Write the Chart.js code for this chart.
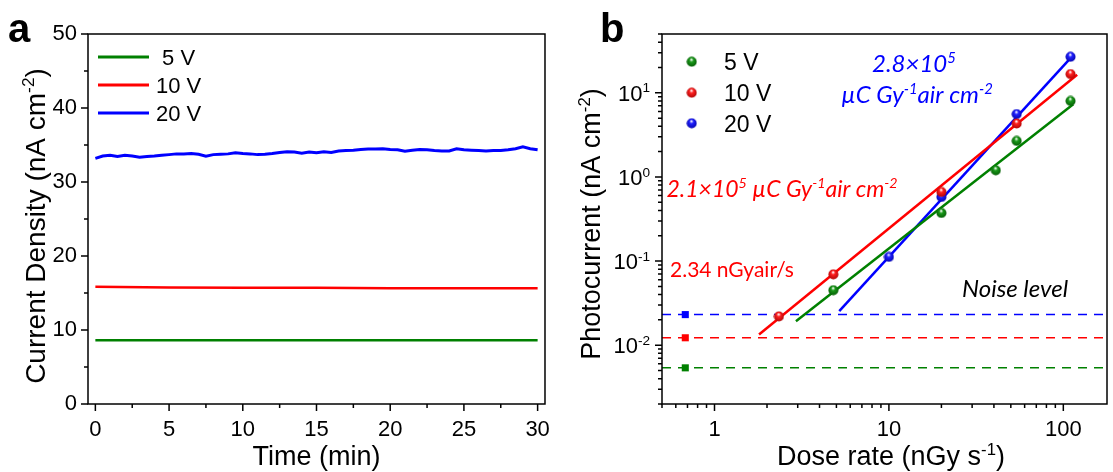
<!DOCTYPE html>
<html>
<head>
<meta charset="utf-8">
<script src="https://cdn.jsdelivr.net/npm/chart.js@4.4.1/dist/chart.umd.min.js"></script>
<style>
html, body { margin: 0; padding: 0; background: #fff; }
#wrap { position: relative; width: 1113px; height: 472px; overflow: hidden; }
canvas { position: absolute; top: 0; }
#cA { left: 0; }
#cB { left: 556px; }
</style>
</head>
<body>
<div id="wrap">
  <canvas id="cA" width="556" height="472"></canvas>
  <canvas id="cB" width="557" height="472"></canvas>
</div>
<script>
// ---- panel a : current density vs time ----
const timeFine = [0,0.5,1,1.5,2,2.5,3,3.5,4,4.5,5,5.5,6,6.5,7,7.5,8,8.5,9,9.5,10,10.5,11,11.5,12,12.5,13,13.5,14,14.5,15,
                  15.5,16,16.5,17,17.5,18,18.5,19,19.5,20,20.5,21,21.5,22,22.5,23,23.5,24,24.5,25,25.5,26,26.5,27,27.5,28,28.5,29,29.5,30];
const blue20V = [33.2,33.5,33.6,33.45,33.6,33.5,33.35,33.45,33.5,33.6,33.7,33.8,33.8,33.85,33.75,33.5,33.7,33.75,33.8,33.95,33.85,
                 33.8,33.7,33.75,33.85,34.0,34.1,34.05,33.9,34.05,33.95,34.1,34.0,34.2,34.25,34.3,34.4,34.45,34.45,34.5,34.4,
                 34.35,34.15,34.3,34.4,34.35,34.25,34.2,34.2,34.5,34.35,34.3,34.25,34.2,34.25,34.25,34.35,34.5,34.75,34.5,34.35];
const timeCoarse = [0,5,10,15,20,25,30];
const red10V = [15.85,15.75,15.7,15.7,15.65,15.65,15.65];
const green5V = [8.6,8.62,8.6,8.6,8.6,8.6,8.6];
const timeTicks = [0,5,10,15,20,25,30];
const timeMinor = [2.5,7.5,12.5,17.5,22.5,27.5];
const densTicks = [0,10,20,30,40,50];
const densMinor = [5,15,25,35,45];

// ---- panel b : photocurrent vs dose rate ----
const dose5V = [4.8,20,41,54,110];
const pc5V = [0.045,0.373,1.2,2.68,8.0];
const dose10V = [2.34,4.8,20,54,110];
const pc10V = [0.022,0.0695,0.663,4.32,16.7];
const dose20V = [10,20,54,110];
const pc20V = [0.112,0.578,5.58,26.8];
const fitDose5V = [2.93,114];
const fitPc5V = [0.0193,7.3];
const fitDose10V = [1.8,120];
const fitPc10V = [0.0134,16.4];
const fitDose20V = [5.19,114];
const fitPc20V = [0.0254,28.1];
const noiseLevel = [0.00538,0.01225,0.0231];   // 5 V, 10 V, 20 V
const noiseMarkDose = 0.68;
const doseRange = [0.5,178];
const pcRange = [0.002,50];
const doseTicks = [1,10,100];
const pcTicks = [0.01,0.1,1,10];
const pcTickExp = ['-2','-1','0','1'];

const GREEN = '#008000', RED = '#ff0000', BLUE = '#0000ff';
const ARIAL = '"Liberation Sans", Arial, sans-serif';
const CALI = 'Lato, "Open Sans", sans-serif';
const OXB = 556; // left of panel b canvas

function ball(color, dark) {
  const c = document.createElement('canvas');
  c.width = c.height = 11;
  const g = c.getContext('2d');
  const grd = g.createRadialGradient(5.2, 3.2, 0.3, 5.5, 5.5, 6);
  grd.addColorStop(0, '#ffffff');
  grd.addColorStop(0.3, color);
  grd.addColorStop(1, dark);
  g.fillStyle = grd;
  g.beginPath(); g.arc(5.5, 5.5, 5, 0, Math.PI * 2); g.fill();
  return c;
}
const ballG = ball('#1a9a1a', '#005000'), ballR = ball('#ff2020', '#a00000'), ballB = ball('#2020ff', '#0000a0');

// text with superscripts: parts = [[text, isSup], ...]
function drawRich(ctx, parts, x, y, o) {
  const supSize = o.size * 0.62;
  const fnt = s => (o.style || '') + ' ' + s + 'px ' + o.family;
  let w = 0;
  parts.forEach(([t, sup]) => { ctx.font = fnt(sup ? supSize : o.size); w += ctx.measureText(t).width; });
  let cx = o.align === 'center' ? x - w / 2 : (o.align === 'right' ? x - w : x);
  ctx.fillStyle = o.color || '#000';
  ctx.textAlign = 'left';
  ctx.textBaseline = 'alphabetic';
  parts.forEach(([t, sup]) => {
    ctx.font = fnt(sup ? supSize : o.size);
    ctx.fillText(t, cx, sup ? y - o.size * 0.38 : y);
    cx += ctx.measureText(t).width;
  });
}

function tickMarks(ctx, scale, vals, len, horiz, area) {
  ctx.beginPath();
  vals.forEach(v => {
    const p = scale.getPixelForValue(v);
    if (horiz) { ctx.moveTo(p, area.bottom); ctx.lineTo(p, area.bottom + len); }
    else { ctx.moveTo(area.left, p); ctx.lineTo(area.left - len, p); }
  });
  ctx.stroke();
}

function logMinor(lo, hi) {
  const out = [];
  for (let e = Math.floor(Math.log10(lo)); e <= Math.ceil(Math.log10(hi)); e++) {
    for (let m = 1; m <= 9; m++) {
      const v = m * Math.pow(10, e);
      if (v >= lo * 0.999 && v <= hi * 1.001) out.push(v);
    }
  }
  return out;
}

const hiddenGrid = { display: true, drawOnChartArea: false, drawTicks: true, tickLength: 7, tickColor: 'rgba(0,0,0,0)' };

// ---------------- chart a ----------------
const frameA = {
  id: 'frameA',
  afterDraw(chart) {
    const ctx = chart.ctx, a = chart.chartArea;
    ctx.save();
    ctx.strokeStyle = '#000'; ctx.lineWidth = 1.5;
    ctx.strokeRect(a.left, a.top, a.right - a.left, a.bottom - a.top);
    tickMarks(ctx, chart.scales.x, timeTicks, 7, true, a);
    tickMarks(ctx, chart.scales.x, timeMinor, 4, true, a);
    tickMarks(ctx, chart.scales.y, densTicks, 7, false, a);
    tickMarks(ctx, chart.scales.y, densMinor, 4, false, a);

    // legend
    const leg = [[GREEN, ' 5 V', 57], [RED, '10 V', 85], [BLUE, '20 V', 113]];
    leg.forEach(([c, t, y]) => {
      ctx.strokeStyle = c; ctx.lineWidth = 3;
      ctx.beginPath(); ctx.moveTo(98, y); ctx.lineTo(149, y); ctx.stroke();
      ctx.fillStyle = '#000'; ctx.font = '22px ' + ARIAL; ctx.textAlign = 'left'; ctx.textBaseline = 'alphabetic';
      ctx.fillText(t, 156, y + 8);
    });

    drawRich(ctx, [['Time (min)', false]], (a.left + a.right) / 2, 465, { size: 27, family: ARIAL, align: 'center' });
    ctx.save();
    ctx.translate(45, 226); ctx.rotate(-Math.PI / 2);
    drawRich(ctx, [['Current Density (nA cm', false], ['-2', true], [')', false]], 0, 0, { size: 28, family: ARIAL, align: 'center' });
    ctx.restore();

    ctx.fillStyle = '#000'; ctx.font = 'bold 40px ' + ARIAL; ctx.textAlign = 'left';
    ctx.fillText('a', 8, 42);
    ctx.restore();
  }
};

new Chart(document.getElementById('cA'), {
  type: 'line',
  data: {
    datasets: [
      { label: '20 V', data: timeFine.map((t, i) => ({ x: t, y: blue20V[i] })), borderColor: BLUE, borderWidth: 3, pointRadius: 0, tension: 0 },
      { label: '10 V', data: timeCoarse.map((t, i) => ({ x: t, y: red10V[i] })), borderColor: RED, borderWidth: 2.5, pointRadius: 0, tension: 0 },
      { label: '5 V', data: timeCoarse.map((t, i) => ({ x: t, y: green5V[i] })), borderColor: GREEN, borderWidth: 2.5, pointRadius: 0, tension: 0 }
    ]
  },
  options: {
    responsive: false, animation: false,
    layout: { padding: { left: 0, right: 9, top: 34, bottom: 0 } },
    plugins: { legend: { display: false }, tooltip: { enabled: false } },
    scales: {
      x: {
        type: 'linear', min: -0.5, max: 30.5,
        afterBuildTicks: s => { s.ticks = timeTicks.map(v => ({ value: v })); },
        afterFit: s => { s.height = 68; },
        grid: hiddenGrid, border: { display: false },
        ticks: { color: '#000', font: { family: ARIAL, size: 22 }, padding: 6, maxRotation: 0, autoSkip: false }
      },
      y: {
        type: 'linear', min: 0, max: 50,
        afterBuildTicks: s => { s.ticks = densTicks.map(v => ({ value: v })); },
        afterFit: s => { s.width = 88; },
        grid: hiddenGrid, border: { display: false },
        ticks: { color: '#000', font: { family: ARIAL, size: 22 }, padding: 4, autoSkip: false }
      }
    }
  },
  plugins: [frameA]
});

// ---------------- chart b ----------------
const frameB = {
  id: 'frameB',
  afterDraw(chart) {
    const ctx = chart.ctx, a = chart.chartArea, sx = chart.scales.x, sy = chart.scales.y;
    ctx.save();
    ctx.strokeStyle = '#000'; ctx.lineWidth = 1.5;
    ctx.strokeRect(a.left, a.top, a.right - a.left, a.bottom - a.top);
    tickMarks(ctx, sx, doseTicks, 7, true, a);
    tickMarks(ctx, sx, logMinor(doseRange[0], doseRange[1]).filter(v => !doseTicks.includes(v)), 4, true, a);
    tickMarks(ctx, sy, pcTicks, 7, false, a);
    tickMarks(ctx, sy, logMinor(pcRange[0], pcRange[1]).filter(v => !pcTicks.some(t => Math.abs(t - v) < t * 1e-6)), 4, false, a);

    // y tick labels 10^n
    pcTicks.forEach((v, i) => {
      const py = sy.getPixelForValue(v);
      drawRich(ctx, [['10', false], [pcTickExp[i], true]], 650 - OXB, py + 8, { size: 22, family: ARIAL, align: 'right' });
    });

    // legend
    const leg = [[ballG, '5 V', 61.7], [ballR, '10 V', 92.7], [ballB, '20 V', 123.3]];
    leg.forEach(([img, t, y]) => {
      ctx.drawImage(img, 691.7 - OXB - 5.5, y - 5.5);
      ctx.fillStyle = '#000'; ctx.font = '23px ' + ARIAL; ctx.textAlign = 'left'; ctx.textBaseline = 'alphabetic';
      ctx.fillText(t, 724 - OXB, y + 8.5);
    });

    // annotations
    const it = { size: 24, family: CALI, style: 'italic', color: BLUE, align: 'center' };
    drawRich(ctx, [['2.8\u00d710', false], ['5', true]], 914 - OXB, 72, it);
    drawRich(ctx, [['\u00b5C Gy', false], ['-1', true], ['air cm', false], ['-2', true]], 917 - OXB, 103, it);
    drawRich(ctx, [['2.1\u00d710', false], ['5', true], [' \u00b5C Gy', false], ['-1', true], ['air cm', false], ['-2', true]],
      782 - OXB, 197, Object.assign({}, it, { color: RED, size: 23 }));
    drawRich(ctx, [['2.34 nGyair/s', false]], 670 - OXB, 277, { size: 21, family: CALI, color: RED });
    drawRich(ctx, [['Noise level', false]], 962 - OXB, 297, { size: 24, family: CALI, style: 'italic', color: '#000' });

    drawRich(ctx, [['Dose rate (nGy s', false], ['-1', true], [')', false]], 891 - OXB, 465, { size: 27, family: ARIAL, align: 'center' });
    ctx.save();
    ctx.translate(600 - OXB, 224); ctx.rotate(-Math.PI / 2);
    drawRich(ctx, [['Photocurrent (nA cm', false], ['-2', true], [')', false]], 0, 0, { size: 27, family: ARIAL, align: 'center' });
    ctx.restore();

    ctx.fillStyle = '#000'; ctx.font = 'bold 40px ' + ARIAL; ctx.textAlign = 'left'; ctx.textBaseline = 'alphabetic';
    ctx.fillText('b', 600 - OXB, 42);
    ctx.restore();
  }
};

const xy = (xs, ys) => xs.map((x, i) => ({ x: x, y: ys[i] }));
const scatterSet = (lbl, xs, ys, img) => ({ label: lbl, data: xy(xs, ys), pointStyle: img, pointRadius: 5, showLine: false });
const fitSet = (xs, ys, c) => ({ data: xy(xs, ys), showLine: true, borderColor: c, borderWidth: 2.5, pointRadius: 0 });
const noiseSet = (lvl, c) => ({
  data: [{ x: doseRange[0], y: lvl }, { x: noiseMarkDose, y: lvl }, { x: doseRange[1], y: lvl }],
  showLine: true, borderColor: c, borderWidth: 1.5, borderDash: [9, 7],
  pointStyle: 'rect', pointRadius: [0, 5, 0], pointBackgroundColor: c, pointBorderColor: c, pointBorderWidth: 0
});

new Chart(document.getElementById('cB'), {
  type: 'scatter',
  data: {
    datasets: [
      scatterSet('5 V', dose5V, pc5V, ballG),
      scatterSet('10 V', dose10V, pc10V, ballR),
      scatterSet('20 V', dose20V, pc20V, ballB),
      fitSet(fitDose5V, fitPc5V, GREEN),
      fitSet(fitDose10V, fitPc10V, RED),
      fitSet(fitDose20V, fitPc20V, BLUE),
      noiseSet(noiseLevel[0], GREEN),
      noiseSet(noiseLevel[1], RED),
      noiseSet(noiseLevel[2], BLUE)
    ]
  },
  options: {
    responsive: false, animation: false,
    layout: { padding: { left: 0, right: 1, top: 34, bottom: 0 } },
    plugins: { legend: { display: false }, tooltip: { enabled: false } },
    scales: {
      x: {
        type: 'logarithmic', min: doseRange[0], max: doseRange[1],
        afterBuildTicks: s => { s.ticks = doseTicks.map(v => ({ value: v })); },
        afterFit: s => { s.height = 68; },
        grid: hiddenGrid, border: { display: false },
        ticks: { color: '#000', font: { family: ARIAL, size: 22 }, padding: 6, maxRotation: 0, autoSkip: false, callback: v => String(v) }
      },
      y: {
        type: 'logarithmic', min: pcRange[0], max: pcRange[1],
        afterBuildTicks: s => { s.ticks = pcTicks.map(v => ({ value: v })); },
        afterFit: s => { s.width = 106; },
        grid: hiddenGrid, border: { display: false },
        ticks: { color: '#000', font: { family: ARIAL, size: 22 }, padding: 4, autoSkip: false, callback: () => '' }
      }
    }
  },
  plugins: [frameB]
});
</script>
</body>
</html>
